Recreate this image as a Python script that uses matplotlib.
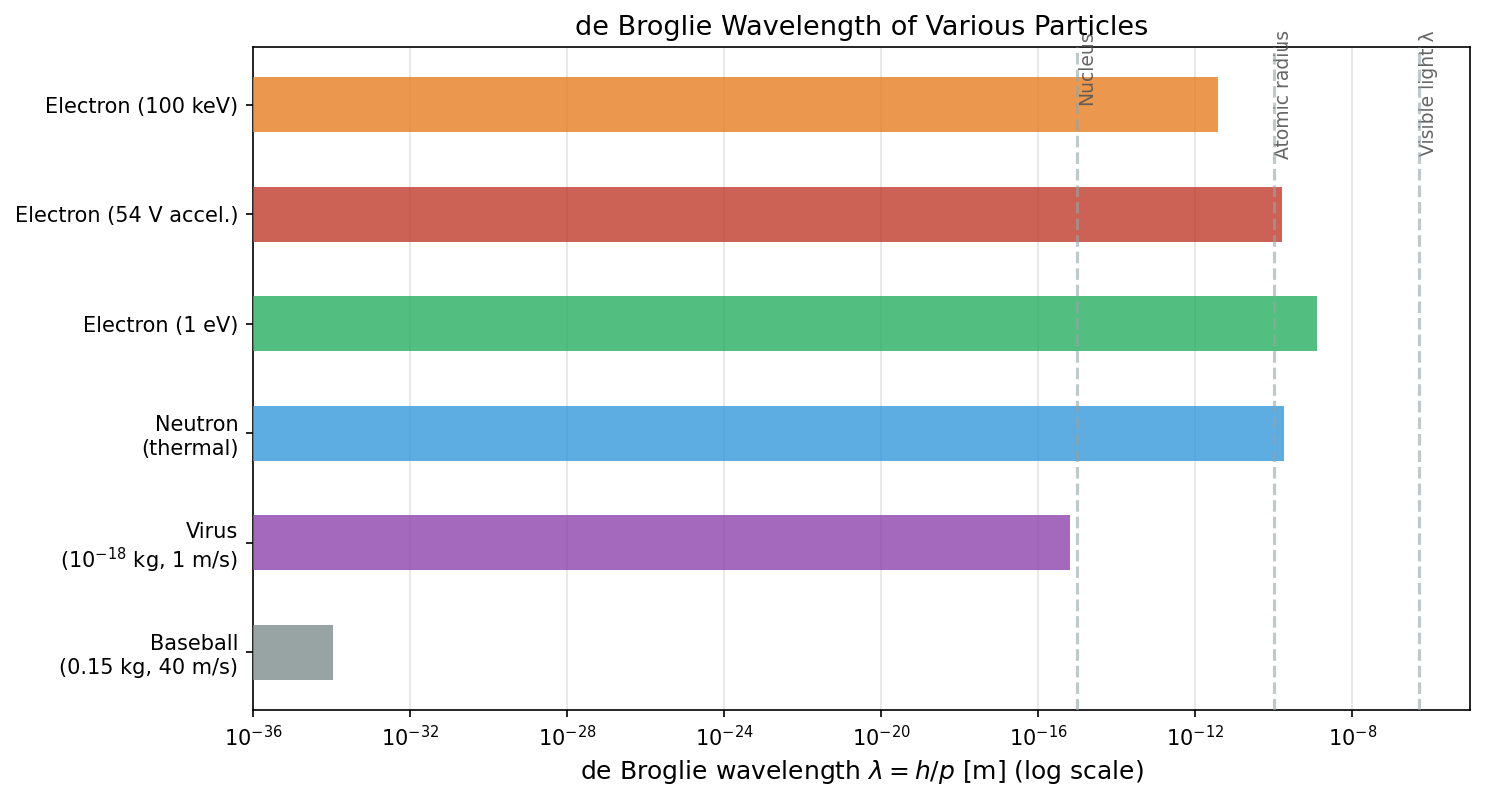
import matplotlib
matplotlib.use("Agg")
import matplotlib.pyplot as plt
import numpy as np

particles = ["Baseball\n(0.15 kg, 40 m/s)", "Virus\n($10^{-18}$ kg, 1 m/s)",
             "Neutron\n(thermal)", "Electron (1 eV)", "Electron (54 V accel.)",
             "Electron (100 keV)"]
wavelengths = [1.1e-34, 6.6e-16, 1.8e-10, 1.23e-9, 1.67e-10, 3.7e-12]
colors = ["#7f8c8d", "#8e44ad", "#3498db", "#27ae60", "#c0392b", "#e67e22"]

ref_names = ["Nucleus", "Atomic radius", "Visible light λ"]
ref_values = [1e-15, 1e-10, 5e-7]

fig, ax = plt.subplots(figsize=(9.9, 5.34), dpi=150)
y = np.arange(len(particles))
ax.barh(y, wavelengths, left=1e-36, height=0.5, color=colors, alpha=0.8, zorder=3)
ax.set_xscale("log")
ax.set_yticks(y)
ax.set_yticklabels(particles, fontsize=10)
ax.set_xlim(1e-36, 1e-5)
ax.set_xticks([1e-36, 1e-32, 1e-28, 1e-24, 1e-20, 1e-16, 1e-12, 1e-8])
ax.tick_params(axis="x", labelsize=10, which="major")
ax.xaxis.set_minor_locator(matplotlib.ticker.NullLocator())
ax.grid(axis="x", color="#dddddd", alpha=0.8, linewidth=0.8, zorder=0)
ax.set_axisbelow(True)

for name, val in zip(ref_names, ref_values):
    ax.axvline(val, color="#95a5a6", linestyle="--", linewidth=1.5, alpha=0.6, zorder=4)
    ax.text(val, 5.68, name, rotation=90, ha="left", va="top", fontsize=9,
            color="#555555", alpha=0.9)

ax.set_xlabel(r"de Broglie wavelength $\lambda = h/p$ [m] (log scale)", fontsize=12)
ax.set_title("de Broglie Wavelength of Various Particles", fontsize=13)
fig.subplots_adjust(left=0.1704, right=0.9899, top=0.9413, bottom=0.1136)
fig.savefig("out.png", dpi=150)
